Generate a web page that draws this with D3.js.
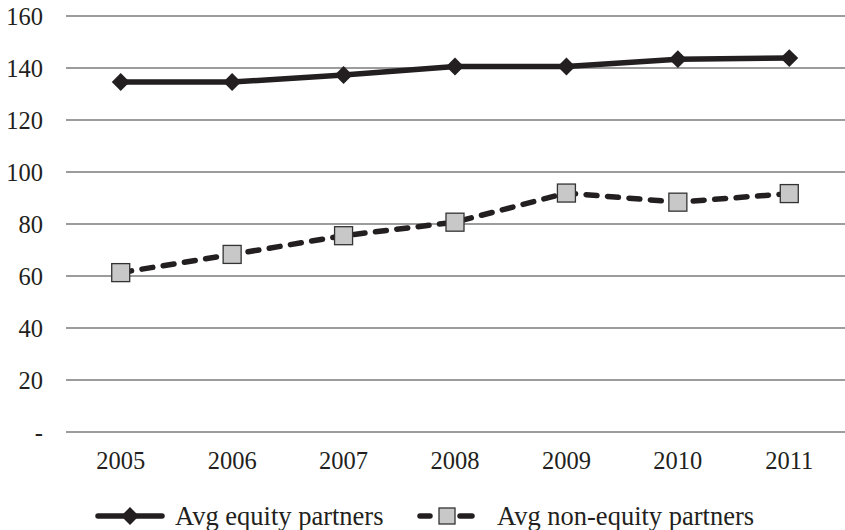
<!DOCTYPE html>
<html><head><meta charset="utf-8">
<script src="https://cdn.jsdelivr.net/npm/d3@7"></script>
<style>body{margin:0;background:#fff}text{font-family:"Liberation Serif","Times New Roman",serif;fill:#231f20}</style>
</head><body>
<svg id="c" width="845" height="530"></svg>
<script>
const years = ["2005","2006","2007","2008","2009","2010","2011"];
const equity = [134.6, 134.6, 137.3, 140.6, 140.6, 143.4, 143.8];
const nonEquity = [61.3, 68.3, 75.5, 80.7, 91.9, 88.4, 91.7];
const yTicks = [0,20,40,60,80,100,120,140,160];
const seriesNames = ["Avg equity partners","Avg non-equity partners"];

const svg = d3.select("#c");
const x = d3.scaleBand().domain(years).range([65,845]);
const y = d3.scaleLinear().domain([0,160]).range([432,16]);
const ink = "#231f20";
const fs = 24.5;

svg.append("g").selectAll("line").data(yTicks).join("line")
  .attr("x1",66).attr("x2",845).attr("y1",d=>y(d)).attr("y2",d=>y(d))
  .attr("stroke","#3a3a3a").attr("stroke-width",1.2);

const yAxis = d3.axisLeft(y).tickValues(yTicks).tickSize(0).tickPadding(0)
  .tickFormat(d=> d===0 ? "-" : d);
const ga = svg.append("g").attr("transform","translate(43,0)").call(yAxis);
ga.select(".domain").remove();
ga.selectAll("text").attr("font-size",fs).attr("font-family","Liberation Serif").attr("fill",ink).attr("dy","0.33em");

const xAxis = d3.axisBottom(x).tickSize(0).tickPadding(0);
const gx = svg.append("g").attr("transform","translate(0,452)").call(xAxis);
gx.select(".domain").remove();
gx.selectAll("text").attr("font-size",fs).attr("font-family","Liberation Serif").attr("fill",ink).attr("dy","0.71em");

const cx = d => x(d) + x.bandwidth()/2;
const line = d3.line().x((d,i)=>cx(years[i])).y(d=>y(d));

svg.append("path").datum(equity).attr("d",line).attr("fill","none")
  .attr("stroke",ink).attr("stroke-width",5.5);
svg.append("path").datum(nonEquity).attr("d",line).attr("fill","none")
  .attr("stroke",ink).attr("stroke-width",5.5).attr("stroke-dasharray","11,10.5").attr("stroke-linecap","round");

const diamond = d3.symbol().type(d3.symbolSquare).size(160);
svg.append("g").selectAll("path").data(equity).join("path")
  .attr("d",diamond())
  .attr("transform",(d,i)=>`translate(${cx(years[i])},${y(d)}) rotate(45)`)
  .attr("fill",ink);

svg.append("g").selectAll("rect").data(nonEquity).join("rect")
  .attr("x",(d,i)=>cx(years[i])-9).attr("y",d=>y(d)-9)
  .attr("width",18).attr("height",18)
  .attr("fill","#c8c8c8").attr("stroke","#333").attr("stroke-width",1.3);

// legend
const ly = 516, lfs = 26.5;
const lg = svg.append("g");
lg.append("line").attr("x1",98).attr("x2",162).attr("y1",ly).attr("y2",ly).attr("stroke",ink).attr("stroke-width",5.5).attr("stroke-linecap","round");
lg.append("path").attr("d",diamond()).attr("transform",`translate(130,${ly}) rotate(45)`).attr("fill",ink);
lg.append("text").attr("x",175).attr("y",ly).attr("dy","0.33em").attr("font-size",lfs).text(seriesNames[0]);
lg.append("line").attr("x1",420).attr("x2",430).attr("y1",ly).attr("y2",ly).attr("stroke",ink).attr("stroke-width",5.5).attr("stroke-linecap","round");
lg.append("line").attr("x1",460).attr("x2",472).attr("y1",ly).attr("y2",ly).attr("stroke",ink).attr("stroke-width",5.5).attr("stroke-linecap","round");
lg.append("rect").attr("x",447-8).attr("y",ly-8).attr("width",16).attr("height",16).attr("fill","#c8c8c8").attr("stroke","#333").attr("stroke-width",1.3);
lg.append("text").attr("x",497).attr("y",ly).attr("dy","0.33em").attr("font-size",lfs).text(seriesNames[1]);
</script>
</body></html>
